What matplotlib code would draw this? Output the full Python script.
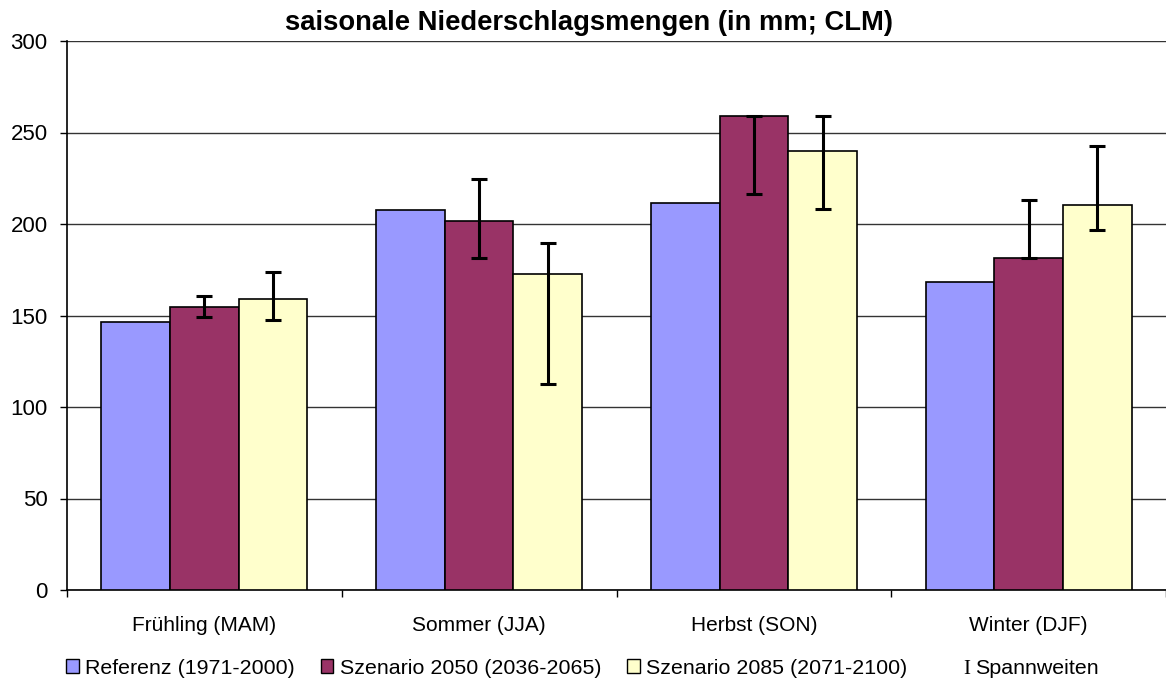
import numpy as np
import matplotlib
matplotlib.use("Agg")
import matplotlib.pyplot as plt
from matplotlib.patches import Patch

plt.rcParams['font.family'] = ['Liberation Sans', 'DejaVu Sans']

seasons = ['Frühling (MAM)', 'Sommer (JJA)', 'Herbst (SON)', 'Winter (DJF)']
series_names = ['Referenz (1971-2000)', 'Szenario 2050 (2036-2065)', 'Szenario 2085 (2071-2100)']

referenz = [146.4, 207.8, 211.6, 168.3]
sz2050 = [154.6, 201.6, 259.2, 181.4]
sz2085 = [159.0, 172.8, 239.9, 210.2]

# spannweiten (min, max) for the scenarios
sz2050_min = [149.2, 181.2, 216.2, 181.4]
sz2050_max = [160.8, 224.6, 259.2, 213.3]
sz2085_min = [147.5, 112.7, 208.0, 196.7]
sz2085_max = [173.8, 189.8, 259.2, 242.4]

colors = ['#9999FF', '#993366', '#FFFFCC']

fig = plt.figure(figsize=(11.66, 6.87), dpi=100)
ax = fig.add_axes([67/1166, 97/687, 1099/1166, 549/687])

x = np.arange(len(seasons)) + 0.5
w = 0.25
values = [referenz, sz2050, sz2085]
for i, vals in enumerate(values):
    ax.bar(x + (i - 1) * w, vals, width=w, color=colors[i], edgecolor='black',
           linewidth=1.2, zorder=3)

for i, (lo, hi, vals) in enumerate([(sz2050_min, sz2050_max, sz2050),
                                     (sz2085_min, sz2085_max, sz2085)]):
    vals = np.array(vals)
    yerr = np.array([vals - np.array(lo), np.array(hi) - vals])
    ax.errorbar(x + i * w, vals, yerr=yerr, fmt='none', ecolor='black',
                elinewidth=2.2, capsize=5.5, capthick=2.2, zorder=4)

ax.set_xlim(0, 4)
ax.set_ylim(0, 300)
ax.set_yticks(np.arange(0, 301, 50))
ax.yaxis.grid(True, color='#333333', linewidth=1.0, zorder=0)
ax.set_axisbelow(True)

ax.set_xticks(x)
ax.set_xticklabels(seasons)
ax.set_xticks(np.arange(0, 5), minor=True)
ax.tick_params(axis='x', which='major', length=0, pad=19, labelsize=15)
ax.tick_params(axis='x', which='minor', length=5, width=1, direction='out')
ax.tick_params(axis='y', length=5, width=1, pad=9, labelsize=16)

for s in ['top', 'right']:
    ax.spines[s].set_visible(False)
for s in ['left', 'bottom']:
    ax.spines[s].set_linewidth(1.2)

fig.text(589/1166, 1 - 23/687, 'saisonale Niederschlagsmengen (in mm; CLM)',
         ha='center', va='center', fontsize=19.7, fontweight='bold')

handles = [Patch(facecolor=c, edgecolor='black', linewidth=1) for c in colors]
fig.legend(handles, series_names, loc='center left', ncol=3,
           bbox_to_anchor=(66/1166, 1 - 668/687), frameon=False, fontsize=15.4,
           handlelength=0.6, handleheight=0.6, handletextpad=0.3,
           columnspacing=1.2, borderpad=0, borderaxespad=0)

fig.text(963/1166, 1 - 670/687, 'I', family='Liberation Serif', fontsize=15,
         ha='left', va='center')
fig.text(975/1166, 1 - 668/687, 'Spannweiten', fontsize=15.4, ha='left', va='center')

fig.savefig('out.png', dpi=100)
